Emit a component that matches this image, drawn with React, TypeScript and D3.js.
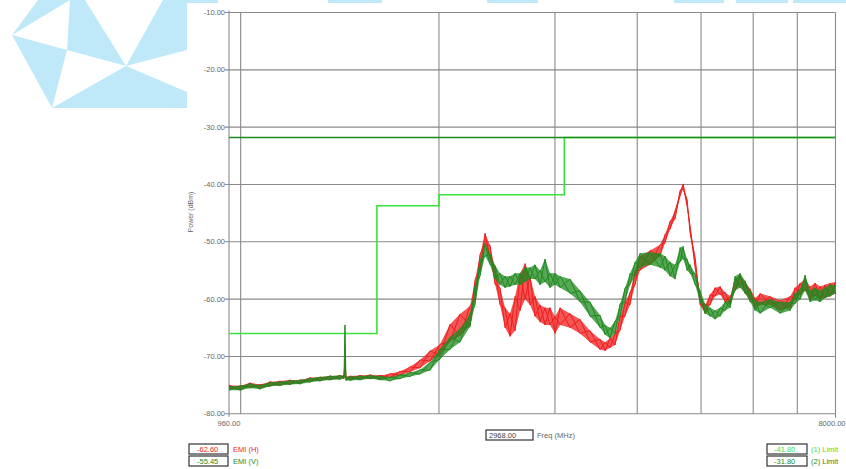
import React from 'react';
import * as d3 from 'd3';

// trace envelopes: [freq MHz, low dBm, high dBm]
const emiH: [number, number, number][] = [
  [960, -75.7, -75.0], [1000, -75.8, -75.1], [1033, -75.3, -74.6], [1070, -75.6, -74.9],
  [1108, -75.1, -74.4], [1147, -75.0, -74.3], [1188, -74.8, -74.1], [1231, -74.7, -74.1],
  [1274, -74.3, -73.7], [1320, -74.2, -73.6], [1367, -74.0, -73.4], [1415, -73.9, -73.3],
  [1435, -73.8, -73.3], [1440, -71.2, -70.2], [1445, -74.1, -73.5], [1466, -74.0, -73.4],
  [1518, -73.9, -73.3], [1572, -73.8, -73.2], [1628, -73.9, -73.3], [1686, -73.7, -73.0],
  [1745, -73.3, -72.6], [1808, -72.7, -71.8], [1872, -72.0, -70.6], [1939, -70.8, -69.0],
  [2007, -69.8, -67.9], [2079, -67.4, -64.4], [2153, -66.4, -62.6], [2230, -64.6, -61.2],
  [2269, -60.0, -56.6], [2309, -55.0, -52.2], [2350, -50.4, -48.5], [2391, -53.0, -50.6],
  [2433, -57.4, -54.6], [2476, -61.0, -58.0], [2520, -65.0, -61.5], [2564, -66.5, -62.5],
  [2610, -65.5, -59.5], [2656, -62.0, -55.5], [2703, -60.0, -53.8], [2750, -61.0, -56.0],
  [2798, -63.0, -59.5], [2848, -64.0, -61.0], [2898, -64.5, -61.5], [2949, -64.5, -61.5],
  [3002, -66.0, -63.0], [3054, -64.5, -61.5], [3163, -65.0, -62.5], [3275, -66.0, -63.5],
  [3392, -67.5, -65.5], [3513, -68.8, -67.0], [3575, -69.0, -67.5], [3637, -68.5, -66.8],
  [3702, -68.0, -66.0], [3767, -65.5, -63.0], [3833, -63.0, -60.5], [3901, -61.0, -58.8],
  [3970, -57.5, -55.0], [4040, -55.0, -52.5], [4184, -54.0, -51.5], [4333, -52.5, -50.5],
  [4409, -50.2, -48.7], [4487, -47.8, -46.4], [4566, -46.0, -44.6], [4647, -42.0, -41.0],
  [4696, -40.8, -39.9], [4762, -43.8, -42.6], [4812, -48.5, -47.2], [4897, -54.5, -52.7],
  [4983, -61.0, -59.5], [5071, -62.5, -61.0], [5161, -61.0, -59.2], [5251, -59.5, -58.0],
  [5344, -59.2, -57.8], [5438, -60.5, -58.8], [5535, -61.0, -59.5], [5632, -58.5, -56.5],
  [5731, -57.5, -55.8], [5832, -59.0, -57.0], [5936, -60.0, -58.2], [6040, -61.5, -59.8],
  [6148, -61.0, -59.0], [6366, -61.0, -59.5], [6593, -62.0, -60.2], [6828, -61.5, -59.5],
  [6946, -60.0, -58.0], [7071, -59.2, -57.2], [7193, -58.5, -56.5], [7320, -60.0, -57.8],
  [7449, -59.5, -57.2], [7579, -60.0, -57.8], [7714, -59.8, -57.5], [7848, -59.5, -57.2],
  [8000, -59.0, -57.0],
];

const emiV: [number, number, number][] = [
  [960, -75.9, -75.2], [1000, -75.9, -75.1], [1033, -75.5, -74.7], [1070, -75.7, -75.0],
  [1108, -75.2, -74.5], [1147, -75.1, -74.4], [1188, -74.9, -74.2], [1231, -74.8, -74.1],
  [1274, -74.5, -73.8], [1320, -74.3, -73.6], [1367, -74.1, -73.4], [1415, -74.0, -73.3],
  [1435, -73.9, -73.3], [1440, -73.5, -64.5], [1445, -74.2, -73.6], [1466, -74.2, -73.5],
  [1518, -74.1, -73.4], [1572, -73.9, -73.3], [1628, -74.1, -73.4], [1686, -74.3, -73.6],
  [1745, -73.9, -73.2], [1808, -73.5, -72.8], [1872, -73.1, -72.3], [1939, -72.4, -71.0],
  [2007, -70.5, -68.7], [2079, -68.8, -66.6], [2153, -67.5, -65.1], [2230, -64.8, -62.6],
  [2269, -61.0, -57.6], [2309, -56.0, -53.2], [2350, -52.5, -50.3], [2391, -54.0, -52.1],
  [2433, -56.5, -54.1], [2476, -57.5, -55.5], [2520, -58.0, -56.0], [2564, -57.8, -56.0],
  [2610, -57.5, -55.5], [2656, -57.5, -55.5], [2703, -57.0, -54.5], [2750, -56.5, -54.5],
  [2798, -56.5, -54.0], [2848, -57.5, -55.0], [2898, -57.0, -53.0], [2949, -58.0, -55.5],
  [3002, -57.5, -55.5], [3054, -58.0, -56.0], [3163, -59.0, -56.5], [3275, -60.5, -58.5],
  [3392, -63.0, -60.5], [3513, -65.0, -62.8], [3575, -66.2, -64.5], [3637, -66.8, -65.0],
  [3702, -66.0, -63.8], [3767, -63.0, -60.8], [3833, -60.5, -58.0], [3901, -57.5, -55.5],
  [3970, -56.0, -53.5], [4040, -54.5, -52.0], [4184, -54.0, -51.8], [4333, -54.5, -52.0],
  [4409, -55.0, -52.5], [4487, -56.0, -53.5], [4566, -56.5, -54.0], [4647, -53.5, -51.0],
  [4696, -53.0, -50.8], [4762, -55.0, -53.0], [4812, -55.5, -54.0], [4897, -57.5, -55.5],
  [4983, -60.5, -58.5], [5071, -62.5, -60.8], [5161, -63.0, -61.5], [5251, -63.5, -62.0],
  [5344, -63.0, -61.5], [5438, -62.0, -60.5], [5535, -61.5, -60.0], [5632, -58.5, -56.0],
  [5731, -58.0, -55.5], [5832, -59.0, -56.8], [5936, -60.5, -58.5], [6040, -62.0, -60.2],
  [6148, -62.5, -60.5], [6366, -61.5, -60.0], [6593, -62.5, -60.5], [6828, -62.0, -60.5],
  [6946, -60.8, -59.0], [7071, -60.0, -58.2], [7193, -58.5, -55.8], [7320, -60.5, -58.5],
  [7449, -60.2, -58.0], [7579, -60.5, -58.5], [7714, -59.8, -58.0], [7848, -59.5, -57.5],
  [8000, -59.0, -57.5],
];

const limit1Freq = [960, 1610, 1610, 2000, 2000, 3100, 3100, 8000];
const limit1Level = [-66, -66, -43.7, -43.7, -41.8, -41.8, -31.8, -31.8];
const limit2Freq = [960, 8000];
const limit2Level = [-31.8, -31.8];

const yTicks = [-10, -20, -30, -40, -50, -60, -70, -80];
const xGrid = [1000, 2000, 3000, 4000, 5000, 6000, 7000];
const xEnds = [960, 8000];

const markerFreq = 2968.0;
const markerH = -62.6;
const markerV = -55.45;

const W = 846;
const H = 469;
const FONT = '"Liberation Sans", Arial, sans-serif';

// watermark shapes (decoration only)
const LOGO_BLUE = '#bfe9f9';
const logoTris = [
  [[12, 35], [38, 0], [70, 0]],
  [[70, 0], [85, 0], [126, 66], [67, 50]],
  [[163, 0], [187, 0], [187, 50], [126, 66]],
  [[12, 35], [67, 50], [52, 108]],
  [[52, 108], [126, 66], [187, 92], [187, 108]],
];
const topBars = [[183, 218], [328, 382], [487, 538], [674, 724], [736, 788], [793, 846]];

const App: React.FC = () => {
  const x = d3.scaleLog().domain([960, 8000]).range([229, 835.5]);
  const y = d3.scaleLinear().domain([-80, -10]).range([413.8, 12.5]);
  const left = 229;
  const right = 835.5;
  const top = 12.5;
  const bottom = 413.8;

  const area = d3.area<[number, number, number]>()
    .x(d => x(d[0]))
    .y0(d => y(d[1]))
    .y1(d => y(d[2]));

  // jagged trace drawn between the low and high readings, two phases
  const zig = (data: [number, number, number][], phase: number) =>
    d3.line<[number, number, number]>()
      .x(d => x(d[0]))
      .y((d, i) => y((i + phase) % 2 === 0 ? d[2] : d[1]))(data) || '';

  const stepLine = (fs: number[], ls: number[]) =>
    d3.line<number>()
      .x(f => x(f))
      .y((_, i) => y(ls[i]))(fs) || '';

  const red = '#f01c1c';
  const green = '#1f8a1f';
  const lime = '#3ce23c';
  const grid = '#8a8a8a';
  const txt = '#666';

  const trace = (data: [number, number, number][], c: string) => (
    <g>
      <path d={area(data) || ''} fill={c} opacity={0.75} />
      <path d={zig(data, 0)} fill="none" stroke={c} strokeWidth={1} />
      <path d={zig(data, 1)} fill="none" stroke={c} strokeWidth={1} />
    </g>
  );

  return (
    <svg width={W} height={H} style={{ position: 'absolute', left: 0, top: 0, background: '#fff' }}
      fontFamily={FONT}>
      <rect x={0} y={0} width={W} height={H} fill="#fff" />
      {logoTris.map((p, i) => (
        <polygon key={i} points={p.map(q => q.join(',')).join(' ')} fill={LOGO_BLUE} />
      ))}
      {topBars.map((b, i) => (
        <rect key={i} x={b[0]} y={0} width={b[1] - b[0]} height={3} fill={LOGO_BLUE} />
      ))}

      {/* grid */}
      {yTicks.map(t => (
        <g key={t}>
          <line x1={left - 4} x2={right} y1={y(t)} y2={y(t)} stroke={grid} strokeWidth={1.1} />
          <text x={left - 4} y={y(t) + 2.5} textAnchor="end" fontSize={7.5} fill={txt}>
            {t.toFixed(2)}
          </text>
        </g>
      ))}
      {xGrid.map(f => (
        <line key={f} x1={x(f)} x2={x(f)} y1={top} y2={bottom} stroke={grid} strokeWidth={1.1} />
      ))}
      <line x1={left} x2={left} y1={top - 2} y2={bottom + 3} stroke={grid} strokeWidth={1.1} />
      <line x1={right} x2={right} y1={top} y2={bottom + 4} stroke={grid} strokeWidth={1.1} />
      {xEnds.map((f, i) => (
        <text key={f} x={i === 0 ? x(f) : W - 0.5} y={426} textAnchor={i === 0 ? 'middle' : 'end'}
          fontSize={7.5} fill={txt}>
          {f.toFixed(2)}
        </text>
      ))}
      <text transform={`translate(193,212) rotate(-90)`} textAnchor="middle" fontSize={7} fill={txt}>
        Power (dBm)
      </text>

      {/* limits */}
      <path d={stepLine(limit1Freq, limit1Level)} fill="none" stroke={lime} strokeWidth={1.6} />
      <path d={stepLine(limit2Freq, limit2Level)} fill="none" stroke={green} strokeWidth={1.6} />

      {/* traces */}
      {trace(emiH, red)}
      {trace(emiV, green)}

      {/* readouts */}
      <rect x={486} y={430} width={47} height={10} fill="#fff" stroke="#333" strokeWidth={1.2} />
      <text x={489} y={438} fontSize={7.5} fill="#444">{markerFreq.toFixed(2)}</text>
      <text x={537} y={438} fontSize={7.5} fill={txt}>Freq (MHz)</text>

      <rect x={189} y={444} width={39} height={10} fill="#fff" stroke="#333" strokeWidth={1.2} />
      <text x={197} y={452} fontSize={7.5} fill={red}>{markerH.toFixed(2)}</text>
      <text x={233} y={452} fontSize={7.5} fill={red}>EMI (H)</text>
      <rect x={189} y={456} width={39} height={10} fill="#fff" stroke="#333" strokeWidth={1.2} />
      <text x={197} y={464} fontSize={7.5} fill={green}>{markerV.toFixed(2)}</text>
      <text x={233} y={464} fontSize={7.5} fill={green}>EMI (V)</text>

      <rect x={767} y={444} width={40} height={10} fill="#fff" stroke="#333" strokeWidth={1.2} />
      <text x={774} y={452} fontSize={7.5} fill={lime}>{limit1Level[4].toFixed(2)}</text>
      <text x={811} y={452} fontSize={7.5} fill={lime}>(1) Limit</text>
      <rect x={767} y={456} width={40} height={10} fill="#fff" stroke="#333" strokeWidth={1.2} />
      <text x={774} y={464} fontSize={7.5} fill={green}>{limit2Level[0].toFixed(2)}</text>
      <text x={811} y={464} fontSize={7.5} fill={green}>(2) Limit</text>
    </svg>
  );
};

export default App;
